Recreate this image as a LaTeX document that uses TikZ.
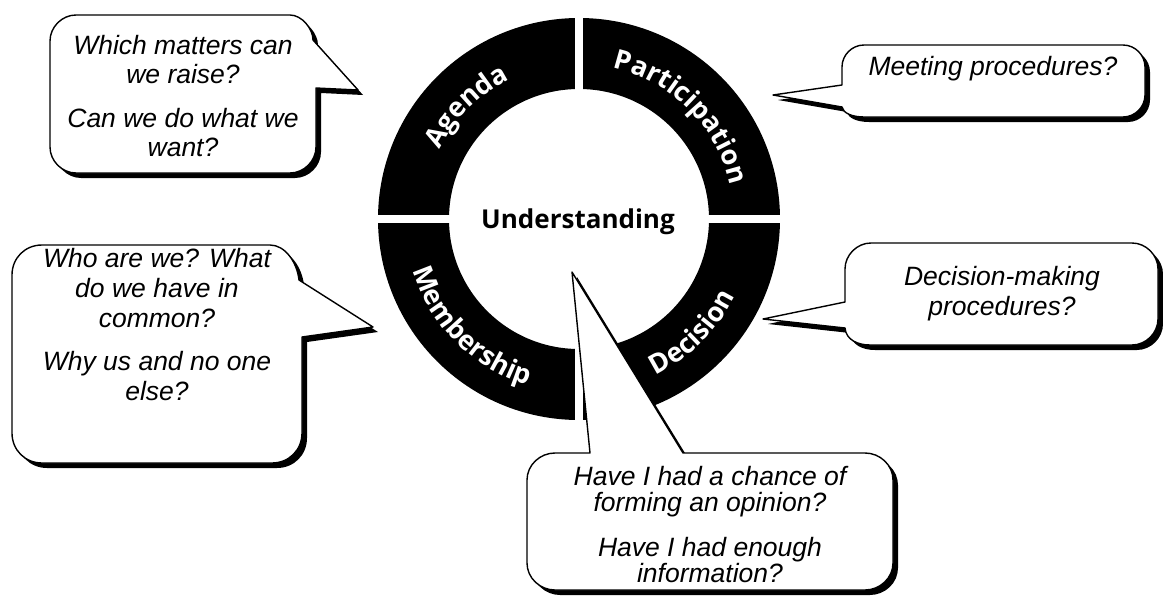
\documentclass[tikz,border=0pt]{standalone}
\usepackage{fontspec}
\setmainfont{Liberation Sans}
\newfontfamily\ringfont{Open Sans}
\usetikzlibrary{decorations.text}

% white bold lettering set along the ring segments
\newcommand\ringtext{\ringfont\bfseries\fontsize{27}{27}\selectfont\color{white}}

% speech bubble outlines (x to the right, y downwards)
\newcommand\bubbleAgenda{(183,15) -- (290,15) .. controls (302,15) and (313,29) .. (313,40) -- (358,90) -- (316,88) -- (316,147) .. controls (316,161) and (304,173) .. (290,173) -- (76,173) .. controls (62,173) and (50,161) .. (50,147) -- (50,41) .. controls (50,27) and (62,15) .. (76,15) -- cycle}
\newcommand\bubbleParticipation{(993,45) -- (1123,45) .. controls (1135,45) and (1145,55) .. (1145,67) -- (1145,95) .. controls (1145,107) and (1135,117) .. (1123,117) -- (864,117) .. controls (852,117) and (843,113) .. (842,107) -- (773,95) -- (842,85) -- (842,67) .. controls (842,55) and (852,45) .. (864,45) -- cycle}
\newcommand\bubbleDecision{(1000,243) -- (1132,243) .. controls (1146,243) and (1158,255) .. (1158,269) -- (1158,319) .. controls (1158,333) and (1146,345) .. (1132,345) -- (870,345) .. controls (858,345) and (846,340) .. (845,328) -- (763,319) -- (845,302) -- (845,269) .. controls (845,255) and (857,243) .. (871,243) -- cycle}
\newcommand\bubbleMembership{(157,245) -- (270,245) .. controls (285,245) and (297,262) .. (299,280) -- (373,327) -- (302,337) -- (302,433) .. controls (302,450) and (289,463) .. (272,463) -- (42,463) .. controls (25,463) and (12,450) .. (12,433) -- (12,275) .. controls (12,258) and (25,245) .. (42,245) -- cycle}
\newcommand\bubbleUnderstanding{(710,590) -- (555,590) .. controls (540,590) and (527,578) .. (527,563) -- (527,480) .. controls (527,465) and (540,453) .. (555,453) -- (590,453) -- (572,272) -- (683,453) -- (865,453) .. controls (880,453) and (893,465) .. (893,480) -- (893,563) .. controls (893,578) and (880,590) .. (865,590) -- cycle}

\tikzset{
  bubble/.style={fill=white, draw=black, line width=1.4pt, line join=round},
  bubbleshadow/.style={fill=black, shift={(5,5)}},
  question/.style={font=\itshape\fontsize{26.5}{29}\selectfont, align=center,
    anchor=north, inner sep=0pt},
  ringlabel/.style={decorate, decoration={text along path, text align=center,
    text={|\ringtext|#1}}},
}

\begin{document}
\begin{tikzpicture}[x=1pt, y=-1pt]
  \fill[white] (0,0) rectangle (1163,597);
  \useasboundingbox (0,0) rectangle (1163,597);

  % the ring of four segments
  \begin{scope}[shift={(579,219)}, y=1pt]
    \fill[black, even odd rule] (0,0) circle[radius=201] (0,0) circle[radius=130];
    \fill[white] (-4,-206) rectangle (4,206);
    \fill[white] (-206,-4) rectangle (206,4);
    \path[ringlabel=Agenda] (180:156) arc[start angle=180, end angle=90, radius=156];
    \path[ringlabel=Participation] (90:155) arc[start angle=90, end angle=0, radius=155];
    \path[ringlabel=Membership] (180:174) arc[start angle=180, end angle=270, radius=174];
    \path[ringlabel=Decision] (270:174) arc[start angle=270, end angle=360, radius=174];
    \node[font=\ringfont\bfseries\fontsize{26}{26}\selectfont, anchor=base, inner sep=0pt]
      (understanding) at (-1,-9) {Understanding};
  \end{scope}

  % speech bubbles with drop shadows
  \fill[bubbleshadow] \bubbleAgenda;
  \path[bubble] \bubbleAgenda;
  \fill[bubbleshadow] \bubbleParticipation;
  \path[bubble] \bubbleParticipation;
  \fill[bubbleshadow] \bubbleDecision;
  \path[bubble] \bubbleDecision;
  \fill[bubbleshadow] \bubbleMembership;
  \path[bubble] \bubbleMembership;
  \fill[bubbleshadow] \bubbleUnderstanding;
  \path[bubble] \bubbleUnderstanding;

  % questions
  \node[question] (qAgenda) at (183,35)
    {Which matters can\\we raise?\\[15pt]Can we do what we\\want?};
  \node[question] (qParticipation) at (993,56) {Meeting procedures?};
  \node[question, font=\itshape\fontsize{26.5}{30}\selectfont] (qDecision) at (1002,266)
    {Decision-making\\procedures?};
  \node[question, font=\itshape\fontsize{26.5}{30}\selectfont] (qMembership) at (157,248)
    {Who are we? What\\do we have in\\common?\\[13pt]Why us and no one\\else?};
  \node[question, font=\itshape\fontsize{26.5}{26}\selectfont] (qUnderstanding) at (710,466)
    {Have I had a chance of\\forming an opinion?\\[19pt]Have I had enough\\information?};
\end{tikzpicture}
\end{document}
